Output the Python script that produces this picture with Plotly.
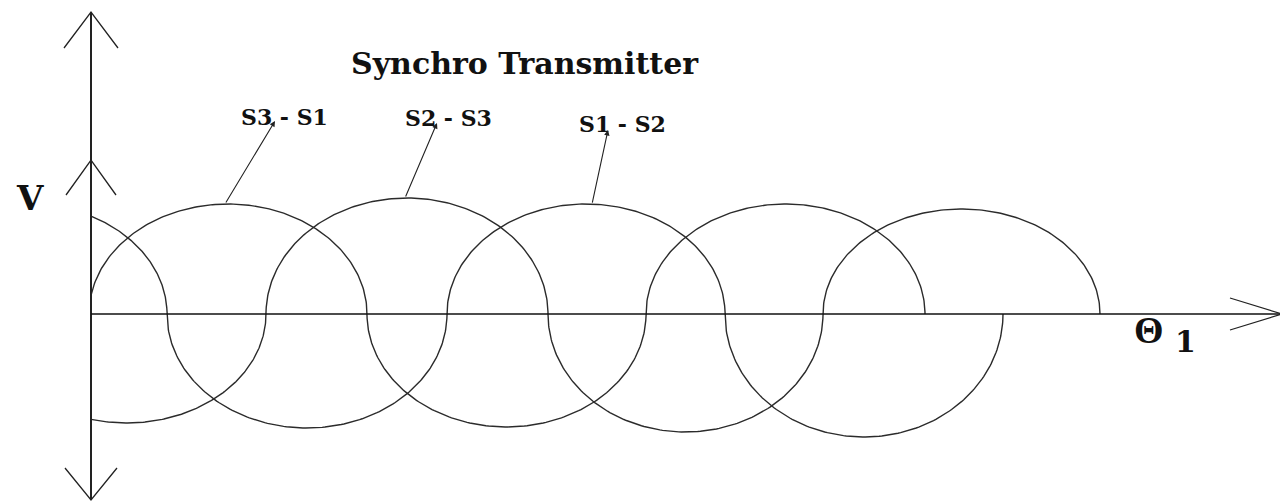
import numpy as np
import plotly.graph_objects as go

# ---------------- data ----------------
# zero crossings of each waveform along the theta1 axis (origin at the V axis)
S3_S1_zeros = [-2, 276, 555, 834]
S3_S1_peaks = [110, -113, 110]
S2_S3_zeros = [-104, 175, 457, 732, 1009]
S2_S3_peaks = [-109, 116, -118, 105]
S1_S2_zeros = [-204, 76, 356, 634, 912]
S1_S2_peaks = [110, -114, 110, -123]

series_names = ["S3 - S1", "S2 - S3", "S1 - S2"]
title_text = "Synchro Transmitter"
y_label = "V"
x_label = "\u0398"
x_label_sub = "1"

# ---------------- geometry helpers ----------------
def wave(zeros, peaks, xmin=0.0, n=160):
    xs, ys = [], []
    for i, a in enumerate(peaks):
        x0, x1 = zeros[i], zeros[i + 1]
        c, h = (x0 + x1) / 2.0, (x1 - x0) / 2.0
        t0 = 0.0
        if x0 < xmin:
            t0 = np.arccos(np.clip((c - xmin) / h, -1, 1))
        t = np.linspace(t0, np.pi, n)
        xs.extend(list(c - h * np.cos(t)))
        ys.extend(list(a * np.sin(t)))
    return np.array(xs), np.array(ys)


def value_at(zeros, peaks, x):
    for i, a in enumerate(peaks):
        x0, x1 = zeros[i], zeros[i + 1]
        if x0 <= x <= x1:
            c, h = (x0 + x1) / 2.0, (x1 - x0) / 2.0
            return a * np.sqrt(max(0.0, 1 - ((x - c) / h) ** 2))
    return 0.0


def wings(tip, direction, length, half):
    d = np.array(direction, float)
    d /= np.linalg.norm(d)
    p = np.array([-d[1], d[0]])
    tip = np.array(tip, float)
    base = tip - d * length
    w1, w2 = base + p * half, base - p * half
    return f"M {w1[0]},{w1[1]} L {tip[0]},{tip[1]} L {w2[0]},{w2[1]}"


fig = go.Figure()

curve_color = "#2b2b2b"
for zeros, peaks, name in [(S3_S1_zeros, S3_S1_peaks, series_names[0]),
                           (S2_S3_zeros, S2_S3_peaks, series_names[1]),
                           (S1_S2_zeros, S1_S2_peaks, series_names[2])]:
    xs, ys = wave(zeros, peaks)
    fig.add_trace(go.Scatter(x=xs, y=ys, mode="lines", name=name,
                             line=dict(color=curve_color, width=1.4),
                             hoverinfo="skip", showlegend=False))

# ---------------- axes drawn as arrows ----------------
axis_x_end = 1191
axis_y_top = 302
axis_y_bottom = -186
shapes = [
    dict(type="line", x0=0, x1=0, y0=axis_y_bottom, y1=axis_y_top,
         line=dict(color="#222", width=2)),
    dict(type="line", x0=0, x1=axis_x_end, y0=0, y1=0,
         line=dict(color="#111", width=1.4)),
    dict(type="path", path=wings((0, axis_y_top), (0, 1), 36, 27),
         line=dict(color="#222", width=1.3)),
    dict(type="path", path=wings((0, 154), (0, 1), 35, 25),
         line=dict(color="#222", width=1.3)),
    dict(type="path", path=wings((0, axis_y_bottom), (0, -1), 32, 26),
         line=dict(color="#222", width=1.3)),
    dict(type="path", path=wings((axis_x_end, 0), (1, 0), 52, 16),
         line=dict(color="#222", width=1.3)),
]
for s in shapes:
    s.update(xref="x", yref="y", layer="above")

serif = "DejaVu Serif"
times = "Liberation Serif"
annotations = [
    dict(x=434, y=251, text=f"<b>{title_text}</b>", showarrow=False,
         font=dict(family=serif, size=30, color="#111")),
    dict(x=-61, y=116, text=f"<b>{y_label}</b>", showarrow=False,
         font=dict(family=serif, size=34, color="#111")),
    dict(x=1058, y=-16, text=f"<b>{x_label}</b>", showarrow=False,
         font=dict(family=times, size=38, color="#111")),
    dict(x=1094, y=-27, text=f"<b>{x_label_sub}</b>", showarrow=False,
         font=dict(family=serif, size=30, color="#111")),
]

label_pos = [(193, 197), (357, 196), (531, 190)]
arrow_head = [(184, 193), (346, 191), (517, 184)]
arrow_tail_x = [134, 314, 501]
curves = [(S3_S1_zeros, S3_S1_peaks), (S2_S3_zeros, S2_S3_peaks),
          (S1_S2_zeros, S1_S2_peaks)]
for name, (lx, ly), (hx, hy), tx, (z, p) in zip(series_names, label_pos,
                                               arrow_head, arrow_tail_x, curves):
    annotations.append(dict(x=lx, y=ly, text=f"<b>{name}</b>", showarrow=False,
                            font=dict(family=serif, size=22, color="#111")))
    annotations.append(dict(x=hx, y=hy, ax=tx, ay=value_at(z, p, tx),
                            xref="x", yref="y", axref="x", ayref="y",
                            text="", showarrow=True, arrowhead=2,
                            arrowsize=1.0, arrowwidth=1.1, arrowcolor="#222",
                            standoff=0, startstandoff=0))

# the page body has an 8px margin; shift the ranges so the drawing lands in place
fig.update_layout(
    width=1288, height=502,
    margin=dict(l=0, r=0, t=0, b=0),
    paper_bgcolor="white", plot_bgcolor="white",
    xaxis=dict(range=[-83, 1205], visible=False, fixedrange=True),
    yaxis=dict(range=[-196, 306], visible=False, fixedrange=True),
    shapes=shapes, annotations=annotations,
    showlegend=False,
)

fig.write_html("out.html")
